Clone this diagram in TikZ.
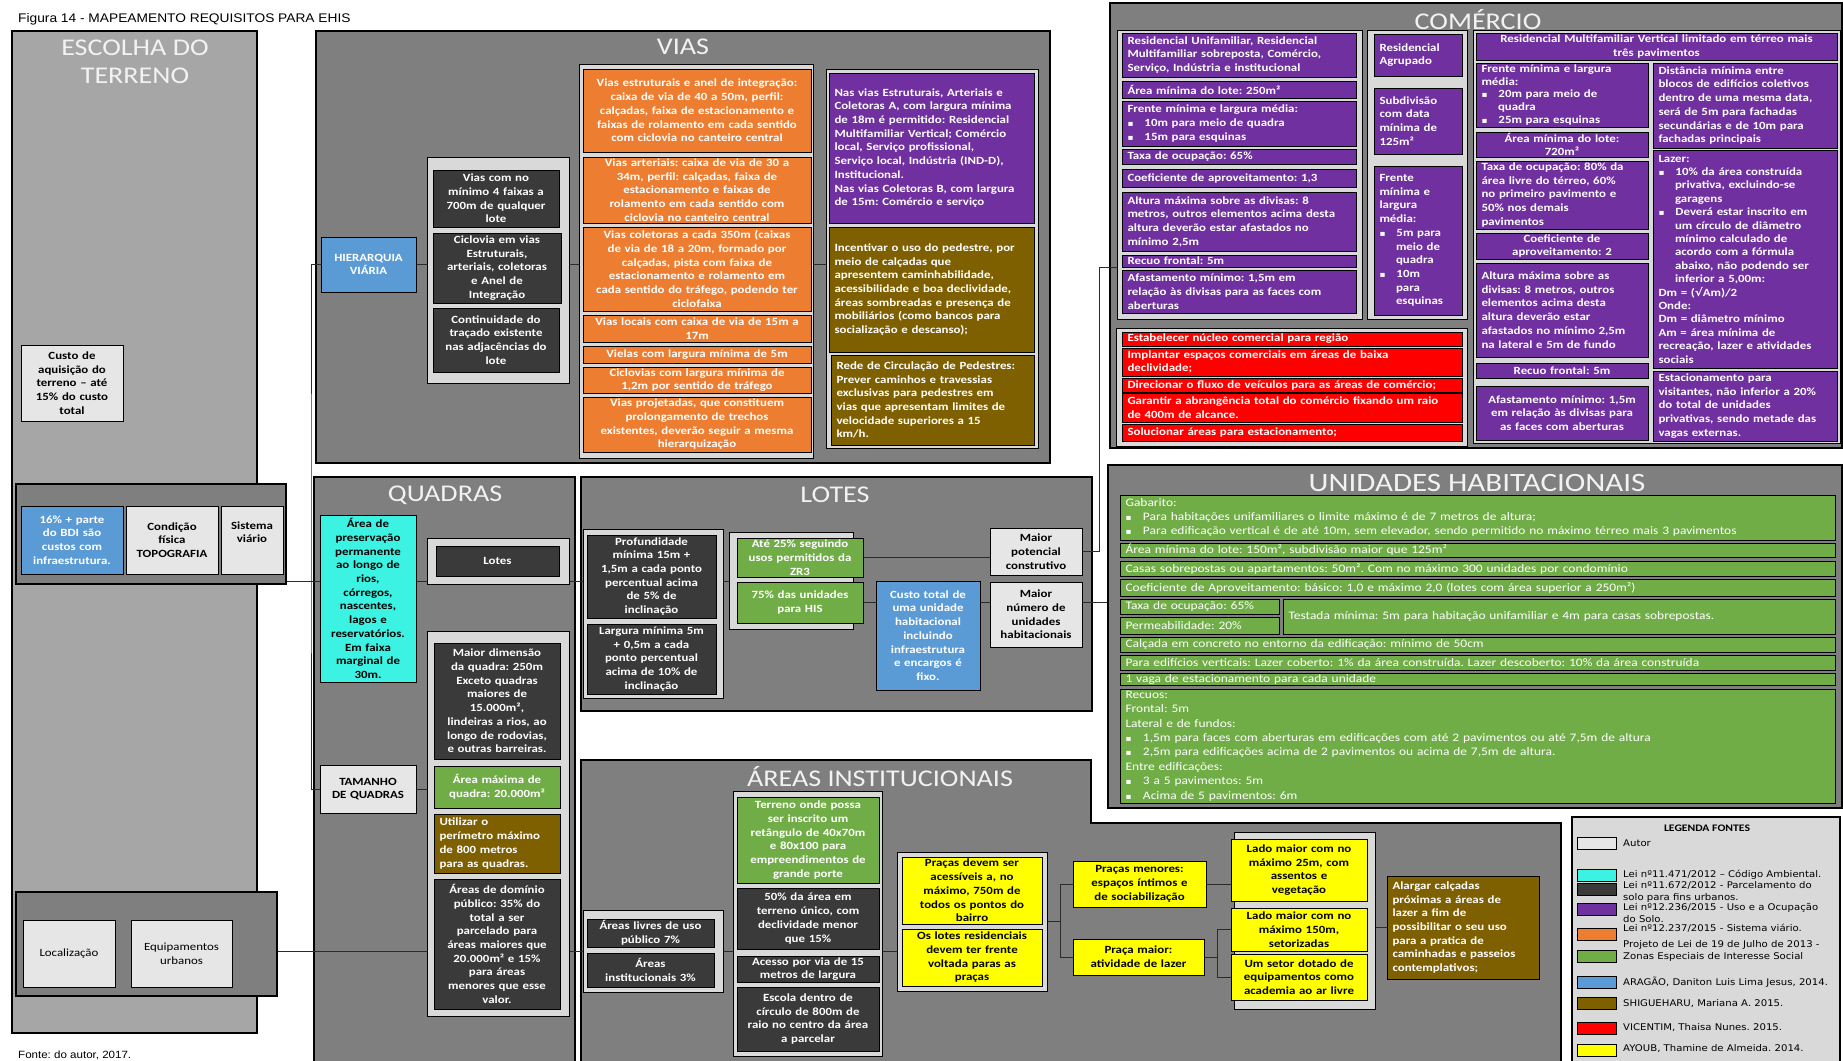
\documentclass[tikz,border=0pt]{standalone}
\usepackage{fontspec}
\setmainfont{Carlito}[FakeStretch=1.17]
\newfontfamily\arialfont{Liberation Sans}[FakeStretch=1.1]
\newfontfamily\legendfont{DejaVu Sans}[FakeStretch=1.1]
\frenchspacing

\definecolor{cpanel}{HTML}{7F7F7F}
\definecolor{cescolha}{HTML}{A6A6A6}
\definecolor{cholder}{HTML}{D9D9D9}
\definecolor{clight}{HTML}{E7E6E6}
\definecolor{cdark}{HTML}{3A3A3A}
\definecolor{corange}{HTML}{ED7D31}
\definecolor{cpurple}{HTML}{7030A0}
\definecolor{cbrown}{HTML}{7F6000}
\definecolor{cblue}{HTML}{5B9BD5}
\definecolor{cgreen}{HTML}{70AD47}
\definecolor{ccyan}{HTML}{3CF2E2}
\definecolor{cred}{HTML}{FF0000}
\definecolor{cyellow}{HTML}{FFFF00}
\definecolor{ctitle}{HTML}{F2F2F2}
\definecolor{cwire}{HTML}{2B2B2B}

\newcommand{\bul}{{\legendfont\fontsize{8}{8}\selectfont ▪}\hspace*{1em}}
\newcommand{\ind}{\hspace*{1.5em}}

\pgfdeclarelayer{panels}
\pgfdeclarelayer{wires}
\pgfsetlayers{panels,wires,main}

\begin{document}
\begin{tikzpicture}[
  x=1pt, y=-1pt,
  spot/.style n args={4}{minimum width={#3-#1}, minimum height={#4-#2},
    at={({(#1+#3)/2},{(#2+#4)/2})},
    /utils/exec={\pgfmathsetlengthmacro\spotw{#3-#1-6}}, text width=\spotw},
  spotl/.style n args={4}{spot={#1}{#2}{#3}{#4}, align=left,
    /utils/exec={\pgfmathsetlengthmacro\spotw{#3-#1-11}}, text width=\spotw},
  panel/.style = {draw, line width=1.3pt, fill=cpanel, inner sep=0pt},
  holder/.style = {draw, line width=1pt, fill=cholder, inner sep=0pt},
  block/.style = {draw, line width=1pt, inner xsep=2pt, inner ysep=0.5pt, align=center,
    font=\bfseries\fontsize{11}{13.7}\selectfont},
  lightb/.style = {block, fill=clight},
  darkb/.style = {block, fill=cdark, text=white},
  orangeb/.style = {block, fill=corange, text=white},
  purpleb/.style = {block, fill=cpurple, text=white},
  brownb/.style = {block, fill=cbrown, text=white},
  blueb/.style = {block, fill=cblue, text=white},
  greenb/.style = {block, fill=cgreen, text=white},
  cyanb/.style = {block, fill=ccyan},
  redb/.style = {block, fill=cred, text=white},
  yellowb/.style = {block, fill=cyellow},
  unib/.style = {draw, line width=1pt, fill=cgreen, text=white, inner xsep=2pt, inner ysep=0.5pt,
    font=\fontsize{11.5}{14.4}\selectfont},
  ptitle/.style = {text=ctitle, font=\fontsize{24}{28}\selectfont, inner sep=0pt},
  legtext/.style = {anchor=west, inner sep=0pt, align=left, font=\legendfont\fontsize{9.2}{11.6}\selectfont},
  wire/.style = {draw=cwire, line width=1pt}
]

\useasboundingbox (0,0) rectangle (1843,1060);

% panels
\begin{pgfonlayer}{panels}
  \node[panel, fill=cescolha, spot={12}{31}{257}{1033}] (escolha) {};
  \node[panel, spot={16}{484}{286}{584}] (escA) {};
  \node[panel, spot={16}{892}{277}{996}] (escB) {};
  \node[panel, spot={316}{31}{1050}{463}] (vias) {};
  \node[panel, spot={314}{477}{575}{1080}] (quadras) {};
  \node[panel, spot={581}{477}{1092}{711}] (lotes) {};
  \draw[panel] (581,760) -- (1091,760) -- (1091,823) -- (1561,823) -- (1561,1080) -- (581,1080) -- cycle;
  \node[panel, spot={1110}{3}{1842}{448}] (comercio) {};
  \node[panel, spot={1108}{465}{1842}{808}] (unidades) {};
  \node[panel, fill=cholder, spot={1572}{817}{1840}{1080}] (legenda) {};
\end{pgfonlayer}

% titles
\node[anchor=west, inner sep=0pt, font=\arialfont\fontsize{12.5}{14}\selectfont] (figura) at (18,19) {Figura 14 - MAPEAMENTO REQUISITOS PARA EHIS};
\node[ptitle, align=center] (tescolha) at (135,62) {ESCOLHA DO\\TERRENO};
\node[ptitle] (tvias) at (683,47) {VIAS};
\node[ptitle] (tquadras) at (445,495) {QUADRAS};
\node[ptitle] (tlotes) at (835,495) {LOTES};
\node[ptitle] (tinst) at (880,777) {ÁREAS INSTITUCIONAIS};
\node[ptitle] (tcomercio) at (1478,20) {COMÉRCIO};
\node[ptitle, font=\fontsize{26.5}{28}\selectfont] (tunidades) at (1477,483) {UNIDADES HABITACIONAIS};
\node[anchor=west, inner sep=0pt, font=\arialfont\fontsize{10.5}{12}\selectfont] (fonte) at (18,1055) {Fonte: do autor, 2017.};

% escolha do terreno
\node[lightb, spot={21}{345}{123}{421}] (custo) {Custo de\\aquisição do\\terreno – até\\15\% do custo\\total};
\node[blueb, spot={21}{506}{123}{574}] (bdi) {16\% + parte\\do BDI são\\custos com\\infraestrutura.};
\node[lightb, spot={126}{506}{218}{574}] (topografia) {Condição\\física\\TOPOGRAFIA};
\node[lightb, spot={221}{506}{283}{574}] (sistema) {Sistema\\viário\rule[-16pt]{0pt}{16pt}};
\node[lightb, font=\fontsize{11}{13.7}\selectfont, spot={23}{920}{115}{987}] (localizacao) {Localização};
\node[lightb, font=\fontsize{11}{13.7}\selectfont, spot={131}{920}{232}{987}] (equipamentos) {Equipamentos\\urbanos};

% vias
\node[blueb, spot={321}{237}{416}{292}] (hierarquia) {HIERARQUIA\\VIÁRIA};
\node[holder, spot={427}{157}{569}{383}] (vdark) {};
\node[darkb, spot={433}{170}{559}{227}] (vfaixas) {Vias com no\\mínimo 4 faixas a\\700m de qualquer\\lote};
\node[darkb, spot={433}{233}{561}{303}] (vciclo) {Ciclovia em vias\\Estruturais,\\arteriais, coletoras\\e Anel de\\Integração};
\node[darkb, spot={433}{308}{559}{372}] (vcont) {Continuidade do\\traçado existente\\nas adjacências do\\lote};
\node[holder, spot={579}{64}{813}{458}] (vorange) {};
\node[orangeb, spot={583}{69}{811}{152}] (vestrut) {Vias estruturais e anel de integração:\\caixa de via de 40 a 50m, perfil:\\calçadas, faixa de estacionamento e\\faixas de rolamento em cada sentido\\com ciclovia no canteiro central};
\node[orangeb, spot={583}{157}{811}{223}] (varter) {Vias arteriais: caixa de via de 30 a\\34m, perfil: calçadas, faixa de\\estacionamento e faixas de\\rolamento em cada sentido com\\ciclovia no canteiro central};
\node[orangeb, spot={583}{227}{811}{311}] (vcolet) {Vias coletoras a cada 350m (caixas\\de via de 18 a 20m, formado por\\calçadas, pista com faixa de\\estacionamento e rolamento em\\cada sentido do tráfego, podendo ter\\ciclofaixa};
\node[orangeb, spot={583}{315}{811}{342}] (vlocal) {Vias locais com caixa de via de 15m a\\17m};
\node[orangeb, spot={583}{346}{811}{363}] (vviela) {Vielas com largura mínima de 5m};
\node[orangeb, spot={583}{367}{811}{393}] (vciclov) {Ciclovias com largura mínima de\\1,2m por sentido de tráfego};
\node[orangeb, spot={583}{397}{811}{452}] (vproj) {Vias projetadas, que constituem\\prolongamento de trechos\\existentes, deverão seguir a mesma\\hierarquização};
\node[holder, spot={826}{69}{1038}{448}] (vuso) {};
\node[purpleb, spotl={829}{73}{1034}{223}] (vpermit) {Nas vias Estruturais, Arteriais e\\Coletoras A, com largura mínima\\de 18m é permitido: Residencial\\Multifamiliar Vertical; Comércio\\local, Serviço profissional,\\Serviço local, Indústria (IND-D),\\Institucional.\\Nas vias Coletoras B, com largura\\de 15m: Comércio e serviço};
\node[brownb, spotl={829}{227}{1034}{352}] (vpedestre) {Incentivar o uso do pedestre, por\\meio de calçadas que\\apresentem caminhabilidade,\\acessibilidade e boa declividade,\\áreas sombreadas e presença de\\mobiliários (como bancos para\\socialização e descanso);};
\node[brownb, spotl={831}{355}{1034}{445}] (vrede) {Rede de Circulação de Pedestres:\\Prever caminhos e travessias\\exclusivas para pedestres em\\vias que apresentam limites de\\velocidade superiores a 15\\km/h.};

% quadras
\node[cyanb, spot={320}{515}{416}{682}] (app) {Área de\\preservação\\permanente\\ao longo de\\rios,\\córregos,\\nascentes,\\lagos e\\reservatórios.\\Em faixa\\marginal de\\30m.};
\node[holder, spot={427}{538}{569}{584}] (qlotes) {};
\node[darkb, spot={436}{546}{559}{576}] (qlote) {Lotes};
\node[lightb, spot={320}{765}{416}{813}] (tamanho) {TAMANHO\\DE QUADRAS};
\node[holder, spot={427}{631}{569}{1016}] (qtam) {};
\node[darkb, spot={434}{643}{560}{759}] (qdimensao) {Maior dimensão\\da quadra: 250m\\Exceto quadras\\maiores de\\15.000m²,\\lindeiras a rios, ao\\longo de rodovias,\\e outras barreiras.};
\node[greenb, spot={434}{766}{560}{808}] (qarea) {Área máxima de\\quadra: 20.000m²};
\node[brownb, spotl={434}{814}{560}{873}] (qperim) {Utilizar o\\perímetro máximo\\de 800 metros\\para as quadras.};
\node[darkb, spot={434}{879}{560}{1009}] (qdominio) {Áreas de domínio\\público: 35\% do\\total a ser\\parcelado para\\áreas maiores que\\20.000m² e 15\%\\para áreas\\menores que esse\\valor.};

% lotes
\node[holder, spot={583}{529}{723}{698}] (ldark) {};
\node[darkb, spot={587}{535}{716}{618}] (lprof) {Profundidade\\mínima 15m +\\1,5m a cada ponto\\percentual acima\\de 5\% de\\inclinação};
\node[darkb, spot={587}{624}{716}{694}] (llarg) {Largura mínima 5m\\+ 0,5m a cada\\ponto percentual\\acima de 10\% de\\inclinação};
\node[holder, spot={729}{532}{853}{629}] (lgreen) {};
\node[greenb, spot={737}{538}{863}{577}] (lzr) {Até 25\% seguindo\\usos permitidos da\\ZR3};
\node[greenb, spot={737}{582}{863}{623}] (lhis) {75\% das unidades\\para HIS};
\node[blueb, spot={876}{581}{980}{690}] (lcusto) {Custo total de\\uma unidade\\habitacional\\incluindo\\infraestrutura\\e encargos é\\fixo.};
\node[lightb, spot={990}{528}{1082}{575}] (maxpot) {Maior\\potencial\\construtivo};
\node[lightb, spot={990}{582}{1082}{647}] (maxnum) {Maior\\número de\\unidades\\habitacionais};

% areas institucionais
\node[holder, spot={583}{910}{723}{992}] (alivres) {};
\node[darkb, spot={587}{919}{714}{947}] (alivre) {Áreas livres de uso\\público 7\%};
\node[darkb, spot={587}{953}{714}{987}] (ainst) {Áreas\\institucionais 3\%};
\node[holder, spot={733}{791}{882}{1056}] (aterreno) {};
\node[greenb, spot={737}{797}{879}{883}] (aretang) {Terreno onde possa\\ser inscrito um\\retângulo de 40x70m\\e 80x100 para\\empreendimentos de\\grande porte};
\node[darkb, spot={737}{888}{879}{949}] (adecliv) {50\% da área em\\terreno único, com\\declividade menor\\que 15\%};
\node[darkb, spot={737}{956}{879}{982}] (aacesso) {Acesso por via de 15\\metros de largura};
\node[darkb, spot={737}{987}{879}{1051}] (aescola) {Escola dentro de\\círculo de 800m de\\raio no centro da área\\a parcelar};
\node[holder, spot={897}{852}{1047}{991}] (apracas) {};
\node[yellowb, spot={902}{857}{1042}{924}] (pacess) {Praças devem ser\\acessíveis a, no\\máximo, 750m de\\todos os pontos do\\bairro};
\node[yellowb, spot={902}{929}{1042}{986}] (plotes) {Os lotes residenciais\\devem ter frente\\voltada paras as\\praças};
\node[yellowb, spot={1073}{861}{1206}{907}] (pmenores) {Praças menores:\\espaços íntimos e\\de sociabilização};
\node[yellowb, spot={1073}{939}{1204}{975}] (pmaior) {Praça maior:\\atividade de lazer};
\node[holder, spot={1234}{832}{1375}{1009}] (alados) {};
\node[yellowb, spot={1231}{839}{1367}{901}] (lado25) {Lado maior com no\\máximo 25m, com\\assentos e\\vegetação};
\node[yellowb, spot={1231}{908}{1367}{951}] (lado150) {Lado maior com no\\máximo 150m,\\setorizadas};
\node[yellowb, spot={1231}{954}{1367}{1000}] (setor) {Um setor dotado de\\equipamentos como\\academia ao ar livre};
\node[brownb, spotl={1387}{876}{1539}{979}] (alargar) {Alargar calçadas\\próximas a áreas de\\lazer a fim de\\possibilitar o seu uso\\para a pratica de\\caminhadas e passeios\\contemplativos;};

% comercio
\node[holder, spot={1117}{30}{1362}{319}] (cunif) {};
\node[purpleb, spotl={1122}{33}{1356}{77}] (cusos) {Residencial Unifamiliar, Residencial\\Multifamiliar sobreposta, Comércio,\\Serviço, Indústria e institucional};
\node[purpleb, spotl={1122}{81}{1356}{98}] (carea) {Área mínima do lote: 250m²};
\node[purpleb, spotl={1122}{101}{1356}{146}] (cfrente) {Frente mínima e largura média:\\\bul 10m para meio de quadra\\\bul 15m para esquinas};
\node[purpleb, spotl={1122}{149}{1356}{164}] (ctaxa) {Taxa de ocupação: 65\%};
\node[purpleb, spotl={1122}{169}{1356}{187}] (ccoef) {Coeficiente de aproveitamento: 1,3};
\node[purpleb, spotl={1122}{192}{1356}{251}] (caltura) {Altura máxima sobre as divisas: 8\\metros, outros elementos acima desta\\altura deverão estar afastados no\\mínimo 2,5m};
\node[purpleb, spotl={1122}{255}{1356}{267}] (crecuo) {Recuo frontal: 5m};
\node[purpleb, spotl={1122}{270}{1356}{313}] (cafast) {Afastamento mínimo: 1,5m em\\relação às divisas para as faces com\\aberturas};
\node[holder, spot={1367}{30}{1467}{319}] (cagrup) {};
\node[purpleb, spotl={1374}{34}{1462}{76}] (cagrupado) {Residencial\\Agrupado};
\node[purpleb, spotl={1374}{88}{1462}{154}] (csubdiv) {Subdivisão\\com data\\mínima de\\125m²};
\node[purpleb, spotl={1374}{166}{1462}{315}] (cfrenteag) {Frente\\mínima e\\largura\\média:\\\bul 5m para\\\ind meio de\\\ind quadra\\\bul 10m\\\ind para\\\ind esquinas};
\node[holder, spot={1473}{30}{1840}{443}] (cvert) {};
\node[purpleb, spot={1476}{33}{1837}{60}] (cvertical) {Residencial Multifamiliar Vertical limitado em térreo mais\\três pavimentos};
\node[purpleb, spotl={1476}{63}{1648}{127}, font=\bfseries\fontsize{11}{12.8}\selectfont] (cvfrente) {Frente mínima e largura\\média:\\\bul 20m para meio de\\\ind quadra\\\bul 25m para esquinas};
\node[purpleb, spot={1476}{132}{1648}{157}] (cvarea) {Área mínima do lote:\\720m²};
\node[purpleb, spotl={1476}{161}{1648}{229}] (cvtaxa) {Taxa de ocupação: 80\% da\\área livre do térreo, 60\%\\no primeiro pavimento e\\50\% nos demais\\pavimentos};
\node[purpleb, spot={1476}{233}{1648}{259}] (cvcoef) {Coeficiente de\\aproveitamento: 2};
\node[purpleb, spotl={1476}{263}{1648}{357}] (cvaltura) {Altura máxima sobre as\\divisas: 8 metros, outros\\elementos acima desta\\altura deverão estar\\afastados no mínimo 2,5m\\na lateral e 5m de fundo};
\node[purpleb, spot={1476}{363}{1648}{378}] (cvrecuo) {Recuo frontal: 5m};
\node[purpleb, spot={1476}{386}{1648}{440}] (cvafast) {Afastamento mínimo: 1,5m\\em relação às divisas para\\as faces com aberturas};
\node[purpleb, spotl={1653}{63}{1837}{148}] (cvdist) {Distância mínima entre\\blocos de edifícios coletivos\\dentro de uma mesma data,\\será de 5m para fachadas\\secundárias e de 10m para\\fachadas principais};
\node[purpleb, spotl={1653}{150}{1837}{368}, font=\bfseries\fontsize{11}{13.4}\selectfont] (cvlazer) {Lazer:\\\bul 10\% da área construída\\\ind privativa, excluindo-se\\\ind garagens\\\bul Deverá estar inscrito em\\\ind um círculo de diâmetro\\\ind mínimo calculado de\\\ind acordo com a fórmula\\\ind abaixo, não podendo ser\\\ind inferior a 5,00m:\\Dm = ({\legendfont √}Am)/2\\Onde:\\Dm = diâmetro mínimo\\Am = área mínima de\\recreação, lazer e atividades\\sociais};
\node[purpleb, spotl={1653}{371}{1837}{441}] (cvestac) {Estacionamento para\\visitantes, não inferior a 20\%\\do total de unidades\\privativas, sendo metade das\\vagas externas.};
\node[holder, spot={1116}{328}{1467}{446}] (cdiretriz) {};
\node[redb, spotl={1122}{332}{1462}{346}] (cnucleo) {Estabelecer núcleo comercial para região};
\node[redb, spotl={1122}{348}{1462}{376}] (cimplantar) {Implantar espaços comerciais em áreas de baixa\\declividade;};
\node[redb, spotl={1122}{378}{1462}{392}] (cfluxo) {Direcionar o fluxo de veículos para as áreas de comércio;};
\node[redb, spotl={1122}{393}{1462}{422}] (craio) {Garantir a abrangência total do comércio fixando um raio\\de 400m de alcance.};
\node[redb, spotl={1122}{424}{1462}{441}] (cestac) {Solucionar áreas para estacionamento;};

% unidades habitacionais
\node[unib, spotl={1120}{495}{1835}{540}] (ugabarito) {Gabarito:\\\bul Para habitações unifamiliares o limite máximo é de 7 metros de altura;\\\bul Para edificação vertical é de até 10m, sem elevador, sendo permitido no máximo térreo mais 3 pavimentos};
\node[unib, spotl={1120}{543}{1835}{557}] (uarea) {Área mínima do lote: 150m², subdivisão maior que 125m²};
\node[unib, spotl={1120}{561}{1835}{576}] (ucasas) {Casas sobrepostas ou apartamentos: 50m². Com no máximo 300 unidades por condomínio};
\node[unib, spotl={1120}{579}{1835}{596}] (ucoef) {Coeficiente de Aproveitamento: básico: 1,0 e máximo 2,0 (lotes com área superior a 250m²)};
\node[unib, spotl={1120}{599}{1279}{614}] (utaxa) {Taxa de ocupação: 65\%};
\node[unib, spotl={1120}{617}{1279}{634}] (uperm) {Permeabilidade: 20\%};
\node[unib, spotl={1283}{599}{1835}{634}] (utestada) {Testada mínima: 5m para habitação unifamiliar e 4m para casas sobrepostas.};
\node[unib, spotl={1120}{637}{1835}{652}] (ucalcada) {Calçada em concreto no entorno da edificação: mínimo de 50cm};
\node[unib, spotl={1120}{655}{1835}{670}] (ulazer) {Para edifícios verticais: Lazer coberto: 1\% da área construída. Lazer descoberto: 10\% da área construída};
\node[unib, spotl={1120}{673}{1835}{685}] (uvaga) {1 vaga de estacionamento para cada unidade};
\node[unib, spotl={1120}{689}{1835}{803}] (urecuos) {Recuos:\\Frontal: 5m\\Lateral e de fundos:\\\bul 1,5m para faces com aberturas em edificações com até 2 pavimentos ou até 7,5m de altura\\\bul 2,5m para edificações acima de 2 pavimentos ou acima de 7,5m de altura.\\Entre edificações:\\\bul 3 a 5 pavimentos: 5m\\\bul Acima de 5 pavimentos: 6m};

% legenda
\node[font=\bfseries\fontsize{10}{12}\selectfont] (legtitle) at (1707,828) {LEGENDA FONTES};
\node[block, fill=clight, spot={1577}{837}{1616}{849}] (sw1) {};
\node[block, fill=ccyan, spot={1577}{869}{1616}{881}] (sw2) {};
\node[block, fill=cdark, spot={1577}{883}{1616}{895}] (sw3) {};
\node[block, fill=cpurple, spot={1577}{903}{1616}{915}] (sw4) {};
\node[block, fill=corange, spot={1577}{928}{1616}{940}] (sw5) {};
\node[block, fill=cgreen, spot={1577}{950}{1616}{962}] (sw6) {};
\node[block, fill=cblue, spot={1577}{976}{1616}{988}] (sw7) {};
\node[block, fill=cbrown, spot={1577}{997}{1616}{1009}] (sw8) {};
\node[block, fill=cred, spot={1577}{1022}{1616}{1034}] (sw9) {};
\node[block, fill=cyellow, spot={1577}{1044}{1616}{1056}] (sw10) {};
\node[legtext] (leg1) at (1623,843) {Autor};
\node[legtext] (leg2) at (1623,875) {Lei nº11.471/2012 – Código Ambiental.};
\node[legtext] (leg3) at (1623,892) {Lei nº11.672/2012 - Parcelamento do\\solo para fins urbanos.};
\node[legtext] (leg4) at (1623,913) {Lei nº12.236/2015 - Uso e a Ocupação\\do Solo.};
\node[legtext] (leg5) at (1623,928) {Lei nº12.237/2015 - Sistema viário.};
\node[legtext] (leg6) at (1623,951) {Projeto de Lei de 19 de Julho de 2013 -\\Zonas Especiais de Interesse Social};
\node[legtext] (leg7) at (1623,982) {ARAGÃO, Daniton Luis Lima Jesus, 2014.};
\node[legtext] (leg8) at (1623,1004) {SHIGUEHARU, Mariana A. 2015.};
\node[legtext] (leg9) at (1623,1028) {VICENTIM, Thaisa Nunes. 2015.};
\node[legtext] (leg10) at (1623,1049) {AYOUB, Thamine de Almeida. 2014.};

% connectors
\begin{pgfonlayer}{wires}
  \coordinate (trunk) at (311,520);
  \draw[wire] (hierarquia.west) -| (trunk) |- (tamanho.west);
  \coordinate (rowlotes) at (0,581);
  \draw[wire] (escA.east |- rowlotes) -- (qlotes.west |- rowlotes);
  \draw[wire] (qlotes.east |- rowlotes) -- (ldark.west |- rowlotes);
  \draw[wire] (hierarquia.east) -- (vdark.west |- hierarquia.east);
  \draw[wire] (vdark.east |- hierarquia.east) -- (vorange.west |- hierarquia.east);
  \draw[wire] (vorange.east |- hierarquia.east) -- (vuso.west |- hierarquia.east);
  \draw[wire] (tamanho.east) -- (qtam.west |- tamanho.east);
  \draw[wire] (ldark.east |- rowlotes) -- (lgreen.west |- rowlotes);
  \draw[wire] (lzr.east) -- (maxpot.west |- lzr.east);
  \draw[wire] (lhis.east) -- (lcusto.west |- lhis.east);
  \draw[wire] (lcusto.east |- lhis.east) -- (maxnum.west |- lhis.east);
  \draw[wire] (maxnum.east |- lhis.east) -- (unidades.west |- lhis.east);
  \coordinate (comtrunk) at (1099,267);
  \draw[wire] (maxpot.east) -| (comtrunk) -- (cunif.west |- comtrunk);
  \coordinate (rowinst) at (0,951);
  \draw[wire] (escB.east |- rowinst) -- (qtam.west |- rowinst);
  \draw[wire] (qtam.east |- rowinst) -- (alivres.west |- rowinst);
  \draw[wire] (alivres.east |- rowinst) -- (aterreno.west |- rowinst);
  \draw[wire] (aterreno.east |- rowinst) -- (apracas.west |- rowinst);
  \draw[wire] (apracas.east) -- ++(13,0) coordinate (pfork);
  \draw[wire] (pmenores.west) -| (pfork) |- (pmaior.west);
  \draw[wire] (pmenores.east) -- (lado25.west |- pmenores.east);
  \draw[wire] (pmaior.east) -- ++(13,0) coordinate (lfork);
  \draw[wire] (lado150.west) -| (lfork) |- (setor.west);
  \draw[wire] (alados.east |- alargar.west) -- (alargar.west);
\end{pgfonlayer}

\end{tikzpicture}
\end{document}
